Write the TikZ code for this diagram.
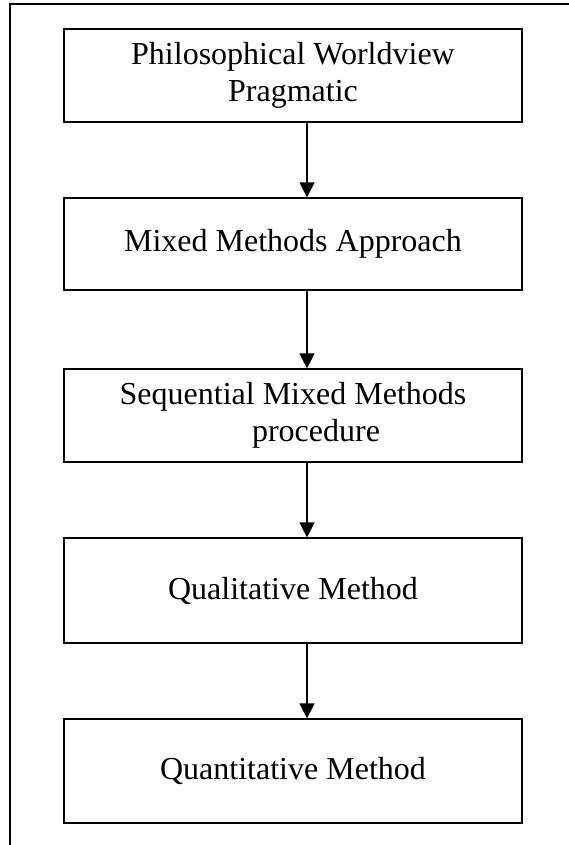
\documentclass[tikz,border=0pt]{standalone}
\usepackage{fontspec}
\setmainfont{Liberation Serif}
\usetikzlibrary{arrows.meta}
\begin{document}
\begin{tikzpicture}[x=1pt,y=-1pt,
  stepbox/.style={draw, line width=1.2pt, rectangle, minimum width=458pt, inner sep=0pt, align=center,
    font=\fontsize{32}{37}\selectfont},
  arr/.style={line width=1.3pt, -{Triangle[width=15pt,length=15pt]}},
  frameline/.style={line width=1.3pt}]
\useasboundingbox (0,0) rectangle (569,845);
\draw[frameline] (569,4) -- (10,4) -- (10,845);
\node[stepbox, minimum height=93pt] (b1) at (293,75.5) {Philosophical Worldview\\Pragmatic};
\node[stepbox, minimum height=92pt] (b2) at (293,244) {Mixed Methods Approach};
\node[stepbox, minimum height=93pt] (b3) at (293,415.5) {Sequential Mixed Methods\\\hspace*{46pt}procedure};
\node[stepbox, minimum height=105pt] (b4) at (293,590.5) {Qualitative Method};
\node[stepbox, minimum height=104pt] (b5) at (293,771) {Quantitative Method};
\draw[arr] ([xshift=14pt]b1.south) -- ([xshift=14pt]b2.north);
\draw[arr] ([xshift=14pt]b2.south) -- ([xshift=14pt]b3.north);
\draw[arr] ([xshift=14pt]b3.south) -- ([xshift=14pt]b4.north);
\draw[arr] ([xshift=14pt]b4.south) -- ([xshift=14pt]b5.north);
\end{tikzpicture}
\end{document}
